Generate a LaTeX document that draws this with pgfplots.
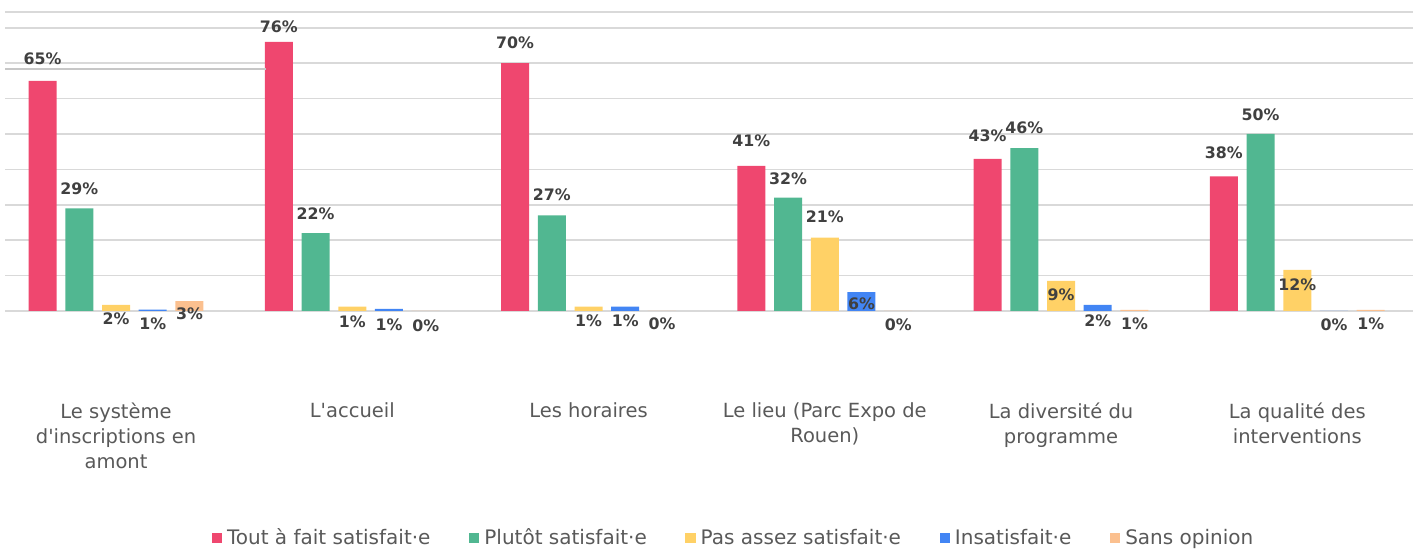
\documentclass[border=0pt]{standalone}
\usepackage{pgfplots}
\pgfplotsset{compat=1.18}
\usepackage{pgfplotstable}
\usepackage{fontspec}
\setmainfont{DejaVu Sans}
\definecolor{cRed}{HTML}{EF476F}
\definecolor{cGreen}{HTML}{51B791}
\definecolor{cYellow}{HTML}{FFD166}
\definecolor{cBlue}{HTML}{4285F4}
\definecolor{cOrange}{HTML}{FBC08F}
\definecolor{cGrid}{HTML}{D9D9D9}
\definecolor{cText}{HTML}{595959}
\definecolor{cLab}{HTML}{404040}

\pgfplotstableread{
x y lab dy
0 65 65 11
1 76 76 7.5
2 70 70 10
3 41 41 12.5
4 43 43 11.5
5 38 38 12
}\tRed
\pgfplotstableread{
x y lab dy
0 29 29 10
1 22 22 9.5
2 27 27 10.5
3 32 32 9.5
4 46 46 10
5 50 50 9.5
}\tGreen
\pgfplotstableread{
x y lab dy
0 1.7 2 -7
1 1.2 1 -7.5
2 1.2 1 -7
3 20.7 21 10.5
4 8.5 9 -7
5 11.6 12 -7.5
}\tYellow
\pgfplotstableread{
x y lab dy
0 0.4 1 -7
1 0.6 1 -8
2 1.2 1 -7
3 5.3 6 -6
4 1.7 2 -8
5 0 0 -7
}\tBlue
\pgfplotstableread{
x y lab dy
0 2.8 3 -6.5
1 0 0 -7.5
2 0 0 -6.5
3 0 0 -7
4 0.3 1 -7
5 0.3 1 -7
}\tOrange

\begin{document}
\begin{tikzpicture}
\path[use as bounding box] (-2.5pt,-119pt) rectangle (706.5pt,155.5pt);
\begin{axis}[
  at={(0pt,0pt)}, anchor=south west,
  scale only axis,
  width=704pt, height=149.5pt,
  xmin=-0.47, xmax=5.49,
  ymin=0, ymax=84.46,
  ybar=4.35pt, bar width=14pt,
  axis line style={draw=none},
  tick style={draw=none},
  ytick={0,10,20,30,40,50,60,70,80,84.46},
  yticklabels={},
  ymajorgrids,
  grid style={cGrid, line width=0.75pt},
  xtick={0,1,2,3,4,5},
  xticklabels={{Le système\\d\textquotesingle inscriptions en\\amont},{L\textquotesingle accueil},{Les horaires},{Le lieu (Parc Expo de\\Rouen)},{La diversité du\\programme},{La qualité des\\interventions}},
  xticklabel style={align=center, font=\fontsize{9.75}{12.5}\selectfont, text=cText, anchor=north, yshift=-38pt},
  nodes near coords={\pgfplotspointmeta\%},
  point meta=explicit symbolic,
  nodes near coords style={font=\fontsize{7.9}{9}\selectfont\bfseries, text=cLab, anchor=center},
  visualization depends on={\thisrow{dy} \as \dy},
  every node near coord/.append style={yshift=\dy pt},
  legend columns=5,
  legend style={at={(0.5181,-0.759)}, anchor=center, draw=none, fill=none,
    font=\fontsize{10}{12}\selectfont, text=cText,
    /tikz/every odd column/.append style={column sep=0.5pt},
    /tikz/every even column/.append style={column sep=17.25pt}},
  legend image code/.code={\fill[#1] (0pt,-2.6pt) rectangle (5.2pt,2.6pt);},
]
\addplot[fill=cRed, draw=none] table[x=x, y=y, meta=lab]{\tRed};
\addplot[fill=cGreen, draw=none] table[x=x, y=y, meta=lab]{\tGreen};
\addplot[fill=cYellow, draw=none] table[x=x, y=y, meta=lab]{\tYellow};
\addplot[fill=cBlue, draw=none] table[x=x, y=y, meta=lab]{\tBlue};
\addplot[fill=cOrange, draw=none] table[x=x, y=y, meta=lab]{\tOrange};
\legend{Tout à fait satisfait·e, Plutôt satisfait·e, Pas assez satisfait·e, Insatisfait·e, Sans opinion}
\draw[color=black!22, line width=0.8pt] (axis cs:-0.47,68.3) -- (axis cs:0.634,68.3);
\end{axis}
\end{tikzpicture}
\end{document}
